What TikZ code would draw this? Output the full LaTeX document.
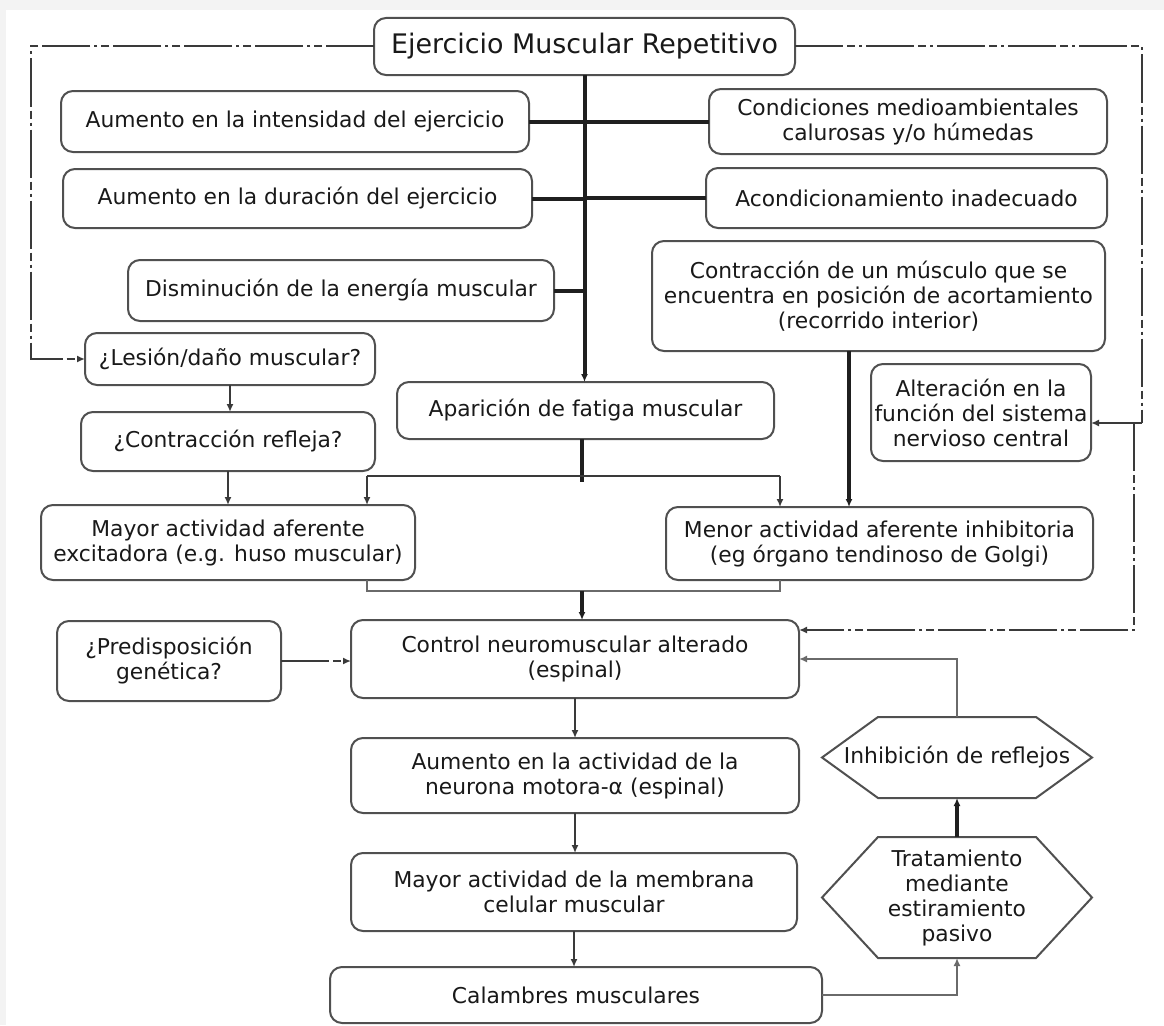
\documentclass[tikz,border=0pt]{standalone}
\usepackage{fontspec}
\setmainfont{DejaVu Sans}
\usetikzlibrary{arrows.meta,calc}
\definecolor{bgc}{HTML}{F3F3F3}
\definecolor{boxc}{HTML}{505050}
\definecolor{linec}{HTML}{3A3A3A}
\definecolor{lightc}{HTML}{6A6A6A}
\begin{document}
\begin{tikzpicture}[x=1pt,y=-1pt,
  box/.style={draw=boxc,line width=2pt,rounded corners=12pt,fill=white,align=center,
    inner sep=2pt,outer sep=0pt,font=\fontsize{21.8}{25}\selectfont,text=black!90},
  hexnode/.style={align=center,inner sep=0pt,outer sep=0pt,
    font=\fontsize{21.8}{25}\selectfont,text=black!90},
  hexline/.style={draw=boxc,line width=2pt,line join=miter},
  heavy/.style={line width=4pt,draw=black!88},
  medium/.style={line width=2.5pt,draw=linec},
  thin/.style={line width=2pt,draw=linec},
  light/.style={line width=2pt,draw=lightc},
  tip/.style={-{Latex[length=8pt,width=7pt]}},
  dashdot/.style={line width=2pt,draw=linec,dash pattern=on 48pt off 4pt on 8pt off 4pt on 3pt off 4pt}]

\useasboundingbox (0,0) rectangle (1164,1025);
\fill[bgc] (0,0) rectangle (1164,1025);
\fill[white] (6,10) rectangle (1164,1025);

% nodes
\node[box,minimum width=421pt,minimum height=57pt,font=\fontsize{26.9}{30}\selectfont] (title) at (584.5,46.5) {Ejercicio Muscular Repetitivo};
\node[box,minimum width=468pt,minimum height=61pt] (int) at (295,121.5) {Aumento en la intensidad del ejercicio};
\node[box,minimum width=469pt,minimum height=59pt] (dur) at (297.5,198.5) {Aumento en la duración del ejercicio};
\node[box,minimum width=398pt,minimum height=65pt] (cond) at (908,121.5) {Condiciones medioambientales\\calurosas y/o húmedas};
\node[box,minimum width=401pt,minimum height=60pt] (acond) at (906.5,198) {Acondicionamiento inadecuado};
\node[box,minimum width=426pt,minimum height=61pt] (dism) at (341,290.5) {Disminución de la energía muscular};
\node[box,minimum width=453pt,minimum height=110pt] (contr) at (878.5,296) {Contracción de un músculo que se\\encuentra en posición de acortamiento\\(recorrido interior)};
\node[box,minimum width=290pt,minimum height=52pt] (lesion) at (230,359) {¿Lesión/daño muscular?};
\node[box,minimum width=377pt,minimum height=57pt] (apar) at (585.5,410.5) {Aparición de fatiga muscular};
\node[box,minimum width=220pt,minimum height=97pt,inner sep=0pt] (alter) at (981,412.5) {Alteración en la\\función del sistema\\nervioso central};
\node[box,minimum width=294pt,minimum height=59pt] (refl) at (228,441.5) {¿Contracción refleja?};
\node[box,minimum width=374pt,minimum height=75pt] (mayor) at (228,542.5) {Mayor actividad aferente\\excitadora (e.g. huso muscular)};
\node[box,minimum width=427pt,minimum height=73pt] (menor) at (879.5,543.5) {Menor actividad aferente inhibitoria\\(eg órgano tendinoso de Golgi)};
\node[box,minimum width=224pt,minimum height=80pt] (pred) at (169,661) {¿Predisposición\\genética?};
\node[box,minimum width=448pt,minimum height=78pt] (control) at (575,659) {Control neuromuscular alterado\\(espinal)};
\node[box,minimum width=448pt,minimum height=75pt] (neuro) at (575,775.5) {Aumento en la actividad de la\\neurona motora-α (espinal)};
\node[box,minimum width=446pt,minimum height=78pt] (memb) at (574,892) {Mayor actividad de la membrana\\celular muscular};
\node[box,minimum width=492pt,minimum height=56pt] (calam) at (576,995) {Calambres musculares};
\node[hexnode,minimum width=270pt,minimum height=81pt] (inhib) at (957,757.5) {Inhibición de reflejos};
\node[hexnode,minimum width=270pt,minimum height=121pt] (trat) at (957,897.5) {Tratamiento\\mediante\\estiramiento\\pasivo};

% hexagon outlines
\draw[hexline] ([xshift=56pt]inhib.north west) -- ([xshift=-56pt]inhib.north east) -- (inhib.east)
  -- ([xshift=-56pt]inhib.south east) -- ([xshift=56pt]inhib.south west) -- (inhib.west) -- cycle;
\draw[hexline] ([xshift=56pt]trat.north west) -- ([xshift=-56pt]trat.north east) -- (trat.east)
  -- ([xshift=-56pt]trat.south east) -- ([xshift=56pt]trat.south west) -- (trat.west) -- cycle;

% coordinates
\coordinate (L) at (31,46.5);
\coordinate (R1) at (1142,46.5);
\coordinate (R2) at (1142,423);
\coordinate (R3) at (1134,423);
\coordinate (R4) at (1134,630);
\coordinate (J) at (582,476);
\coordinate (Jb) at (582,482);
\coordinate (JL) at (367,476);
\coordinate (JR) at (780,476);
\coordinate (K) at (582,591);
\coordinate (C) at (849,351);

% trunk and side branches
\draw[heavy,tip] (title.south) -- (title.south |- apar.north);
\draw[heavy] (int.east) -- (cond.west);
\draw[heavy] (dur.east) -- (dur.east -| title.south);
\draw[heavy] (acond.west) -- (acond.west -| title.south);
\draw[heavy] (dism.east) -- (dism.east -| title.south);

% contraction in short position
\draw[heavy,tip] (C) -- (C |- menor.north);

% fatigue split
\draw[heavy] (J |- apar.south) -- (Jb);
\draw[medium] (JL) -- (JR);
\draw[thin,tip] (JL) -- (JL |- mayor.north);
\draw[thin,tip] (JR) -- (JR |- menor.north);

% left chain
\draw[thin,tip] (lesion.south) -- (lesion.south |- refl.north);
\draw[thin,tip] (refl.south) -- (refl.south |- mayor.north);

% merge into control
\draw[light] (JL |- mayor.south) |- (K);
\draw[light] (JR |- menor.south) |- (K);
\draw[heavy,tip] (K) -- (K |- control.north);

% dash-dot feedback lines
\draw[dashdot,tip] (title.west) -- (L) |- (lesion.west);
\draw[dashdot] (title.east) -- (R1) -- (R2);
\draw[dashdot,tip] (R2) -- (R2 -| alter.east);
\draw[dashdot,tip] (R3) -- (R4) -- (R4 -| control.east);
\draw[dashdot,tip] (pred.east) -- (pred.east -| control.west);

% main column
\draw[thin,tip] (control.south) -- (control.south |- neuro.north);
\draw[thin,tip] (neuro.south) -- (neuro.south |- memb.north);
\draw[thin,tip] (memb.south) -- (memb.south |- calam.north);

% treatment loop
\draw[light,tip] (calam.east) -| (trat.south);
\draw[heavy,tip] (trat.north) -- (inhib.south);
\draw[light,tip] (inhib.north) |- (control.east);
\end{tikzpicture}
\end{document}
